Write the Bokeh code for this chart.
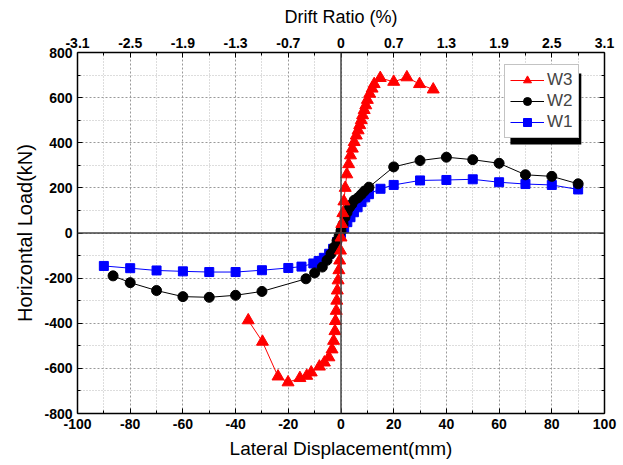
from bokeh.plotting import figure
from bokeh.models import (LinearAxis, FixedTicker, Span, BoxAnnotation, Legend,
                          LegendItem, Range1d)
from bokeh.embed import file_html
from bokeh.resources import INLINE

# ---------------- data ----------------
x_w1 = [-90, -80, -70, -60, -50, -40, -30, -20, -15, -10.5, -8.5, -6.5, -4.5, -3, -1.5,
        0, 1.2, 2.4, 3.6, 4.9, 6.3, 7.8, 9.2, 10.6, 15, 20, 30, 40, 50, 60, 70, 80, 90]
y_w1 = [-146, -156, -166, -170, -173, -173, -165, -155, -149, -135, -124, -110, -92, -70, -40,
        0, 22, 48, 70, 92, 114, 137, 158, 172, 196, 213, 233, 235, 238, 225, 217, 213, 193]

x_w2 = [-86.5, -80, -70, -60, -50, -40, -30, -13.3, -10, -7.1, -5.3, -3.8, -2.6, -1.5, -0.7,
        0, 0.8, 1.5, 2.3, 3.2, 4.1, 5.0, 6.4, 7.7, 8.9, 10.6, 20, 30, 40, 50, 60, 70, 80, 90]
y_w2 = [-190, -220, -255, -282, -285, -276, -259, -203, -177, -151, -121, -92, -63, -34, -12,
        10, 39, 69, 91, 113, 127, 145, 156, 171, 186, 203, 293, 321, 336, 325, 309, 258, 251, 218]

x_w3 = [-35.2, -29.8, -23.9, -20.1, -15.6, -13, -11.3, -8.2, -6.3, -4.6, -3.4, -2.8, -2.3, -2.1,
        -1.8, -1.6, -1.4, -1.1, -0.8, -0.5, -0.2, 0, 0.3, 0.7, 1.1, 1.6, 2.2, 2.9, 3.6, 4.3, 5.0,
        5.8, 6.5, 7.1, 7.7, 8.2, 8.8, 9.4, 10.0, 10.9, 11.8, 12.6, 14.9, 20, 25, 29.8, 35]
y_w3 = [-387, -482, -636, -662, -643, -633, -618, -592, -574, -551, -516, -478, -435, -390,
        -345, -300, -255, -210, -165, -122, -78, -20, 40, 88, 140, 200, 260, 305, 344, 374, 403,
        432, 455, 478, 500, 522, 545, 566, 590, 617, 640, 660, 687, 670, 690, 660, 636]

x_ticks = [-100, -80, -60, -40, -20, 0, 20, 40, 60, 80, 100]
x_minor = [-90, -70, -50, -30, -10, 10, 30, 50, 70, 90]
x_labels = ["-100", "-80", "-60", "-40", "-20", "0", "20", "40", "60", "80", "100"]
drift_labels = ["-3.1", "-2.5", "-1.9", "-1.3", "-0.7", "0", "0.7", "1.3", "1.9", "2.5", "3.1"]
y_ticks = [-800, -600, -400, -200, 0, 200, 400, 600, 800]
y_minor = [-700, -500, -300, -100, 100, 300, 500, 700]
y_labels = ["-800", "-600", "-400", "-200", "0", "200", "400", "600", "800"]

FONT = "Liberation Sans"

p = figure(width=623, height=465, x_range=Range1d(-100, 100), y_range=Range1d(-800, 800),
           output_backend="svg", toolbar_location=None,
           min_border_left=77, min_border_right=19, min_border_top=52, min_border_bottom=52,
           background_fill_color="white", border_fill_color="white")
p.outline_line_color = None


def style_axis(ax):
    ax.axis_line_color = "black"
    ax.axis_line_width = 1.5
    ax.major_tick_in = 5
    ax.major_tick_out = 0
    ax.minor_tick_in = 3
    ax.minor_tick_out = 0
    ax.major_tick_line_color = "black"
    ax.minor_tick_line_color = "black"
    ax.major_label_text_font = FONT
    ax.major_label_text_font_style = "bold"
    ax.major_label_text_font_size = "14px"
    ax.major_label_text_color = "black"
    ax.major_label_standoff = 5
    ax.axis_label_text_font = FONT
    ax.axis_label_text_font_style = "normal"
    ax.axis_label_text_font_size = "18px"
    ax.axis_label_text_color = "black"
    ax.axis_label_standoff = 5


# bottom axis
xb = p.xaxis[0]
xb.ticker = FixedTicker(ticks=x_ticks, minor_ticks=x_minor)
xb.major_label_overrides = {t: s for t, s in zip(x_ticks, x_labels)}
xb.axis_label = "Lateral Displacement(mm)"
style_axis(xb)
xb.axis_label_text_font_size = "19px"
xb.axis_label_standoff = 6

# left axis
yl = p.yaxis[0]
yl.ticker = FixedTicker(ticks=y_ticks, minor_ticks=y_minor)
yl.major_label_overrides = {t: s for t, s in zip(y_ticks, y_labels)}
yl.axis_label = "Horizontal Load(kN)"
style_axis(yl)
yl.axis_label_text_font_size = "20px"

# top axis (drift ratio)
xt = LinearAxis(ticker=FixedTicker(ticks=x_ticks, minor_ticks=x_minor),
                major_label_overrides={t: s for t, s in zip(x_ticks, drift_labels)},
                axis_label="Drift Ratio (%)")
style_axis(xt)
xt.axis_label_standoff = 8
p.add_layout(xt, "above")

# right axis (no labels)
yr = LinearAxis(ticker=FixedTicker(ticks=y_ticks, minor_ticks=y_minor),
                major_label_overrides={t: "" for t in y_ticks})
style_axis(yr)
p.add_layout(yr, "right")

# grids
p.xgrid.ticker = FixedTicker(ticks=x_ticks, minor_ticks=x_minor)
p.ygrid.ticker = FixedTicker(ticks=y_ticks, minor_ticks=y_minor)
for g in (p.xgrid[0], p.ygrid[0]):
    g.grid_line_color = "#999999"
    g.grid_line_dash = "2 2"
    g.grid_line_width = 1
    g.minor_grid_line_color = "#bbbbbb"
    g.minor_grid_line_dash = "1 2"
    g.minor_grid_line_width = 1

p.add_layout(Span(location=0, dimension="height", line_color="#444444", line_width=1.5))
p.add_layout(Span(location=0, dimension="width", line_color="#444444", line_width=1.5))

# series
l1 = p.line(x_w1, y_w1, line_color="blue", line_width=1)
s1 = p.scatter(x_w1, y_w1, marker="square", size=9, fill_color="blue", line_color="blue")
l2 = p.line(x_w2, y_w2, line_color="black", line_width=1)
s2 = p.scatter(x_w2, y_w2, marker="circle", size=10, fill_color="black", line_color="black")
l3 = p.line(x_w3, y_w3, line_color="red", line_width=1)
s3 = p.scatter(x_w3, y_w3, marker="triangle", size=12, fill_color="red", line_color="red")

# legend shadow
p.add_layout(BoxAnnotation(left=64.3, right=91.2, top=707, bottom=392,
                           fill_color="black", fill_alpha=1, line_color=None))

legend = Legend(items=[LegendItem(label="W3", renderers=[l3, s3]),
                       LegendItem(label="W2", renderers=[l2, s2]),
                       LegendItem(label="W1", renderers=[l1, s1])],
                location=(427, 275))
legend.glyph_width = 34
legend.glyph_height = 20
legend.label_height = 20
legend.label_text_font = FONT
legend.label_text_font_size = "17px"
legend.label_standoff = 3
legend.spacing = 1
legend.padding = 5
legend.margin = 0
legend.border_line_color = "#888888"
legend.border_line_width = 1
legend.background_fill_color = "white"
legend.background_fill_alpha = 1
p.add_layout(legend)

open("out.html", "w").write(file_html(p, INLINE))
